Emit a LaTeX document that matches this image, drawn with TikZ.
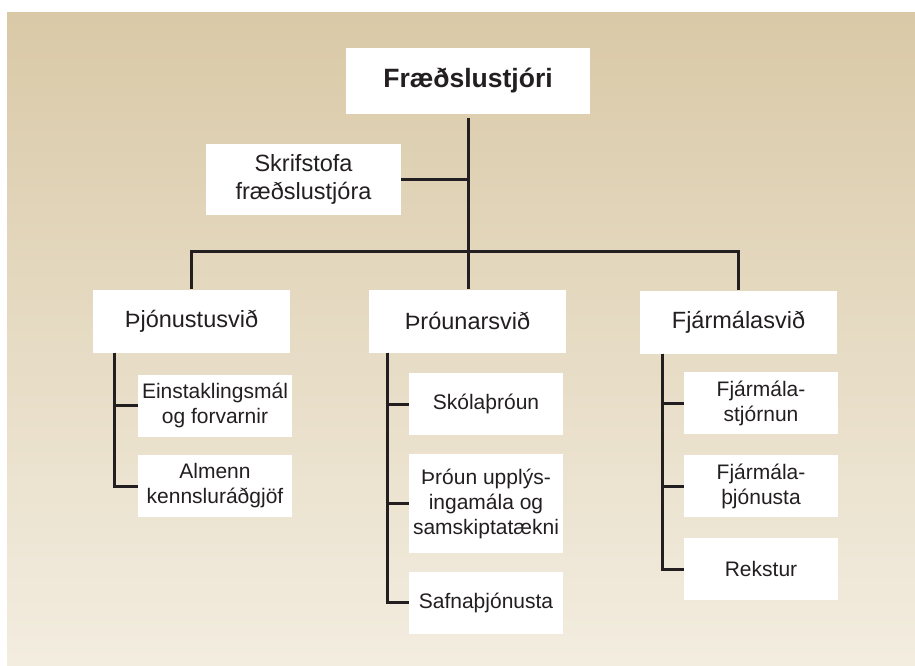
\documentclass[tikz,border=0pt]{standalone}
\usepackage{fontspec}
\setmainfont{Liberation Sans}
\definecolor{bgtop}{RGB}{217,201,167}
\definecolor{bgbot}{RGB}{243,237,224}
\definecolor{ink}{RGB}{35,31,32}
\tikzset{
  card/.style={fill=white, inner sep=0pt, align=center, text=ink},
  headbox/.style={card, minimum width=244, minimum height=66, font=\fontsize{26.5}{30}\selectfont\bfseries},
  officebox/.style={card, minimum width=195, minimum height=71, font=\fontsize{23.5}{28}\selectfont},
  divbox/.style={card, minimum width=197, minimum height=63, font=\fontsize{23.5}{28}\selectfont},
  unitbox/.style={card, minimum width=154, minimum height=62, font=\fontsize{21}{25}\selectfont},
  link/.style={draw=ink, line width=3}
}
\begin{document}
\begin{tikzpicture}[x=1pt,y=-1pt]
\useasboundingbox (0,0) rectangle (915,666);
\fill[white] (0,0) rectangle (915,666);
\shade[top color=bgtop, bottom color=bgbot] (7,13) rectangle (915,665); % background

\node[headbox] (chief) at (468,81) {Fræðslustjóri};
\node[officebox] (office) at (303.5,179.5) {Skrifstofa\\fræðslustjóra};

\node[divbox] (thj) at (191.5,321) {Þjónustusvið};
\node[divbox] (throun) at (467.5,321) {Þróunarsvið};
\node[divbox] (fjar) at (738.5,322) {Fjármálasvið};

% Þjónustusvið
\node[unitbox] (einst) at (215,405.5) {Einstaklingsmál\\og forvarnir};
\node[unitbox] (almenn) at (215,486) {Almenn\\kennsluráðgjöf};

% Þróunarsvið
\node[unitbox] (skola) at (486,404) {Skólaþróun};
\node[unitbox, minimum height=99] (uppl) at (486,503.5) {Þróun upplýs-\\ingamála og\\samskiptatækni};
\node[unitbox] (safn) at (486,602.5) {Safnaþjónusta};

% Fjármálasvið
\node[unitbox] (fjst) at (761,403) {Fjármála-\\stjórnun};
\node[unitbox] (fjthj) at (761,486) {Fjármála-\\þjónusta};
\node[unitbox] (rekst) at (761,569) {Rekstur};

\coordinate (bar) at (467.5,251);
\draw[link] ([yshift=-4pt]chief.south) -- (chief.south |- throun.north); % trunk
\draw[link] (office.east) -- (office.east -| chief.south);
\draw[link] (thj.north) |- (bar) -| (fjar.north);

\draw[link] ([xshift=22pt]thj.south west) |- (einst.west);
\draw[link] ([xshift=22pt]thj.south west) |- (almenn.west);
\draw[link] ([xshift=19pt]throun.south west) |- (skola.west);
\draw[link] ([xshift=19pt]throun.south west) |- (uppl.west);
\draw[link] ([xshift=19pt]throun.south west) |- (safn.west);
\draw[link] ([xshift=23pt]fjar.south west) |- (fjst.west);
\draw[link] ([xshift=23pt]fjar.south west) |- (fjthj.west);
\draw[link] ([xshift=23pt]fjar.south west) |- (rekst.west);
\end{tikzpicture}
\end{document}
